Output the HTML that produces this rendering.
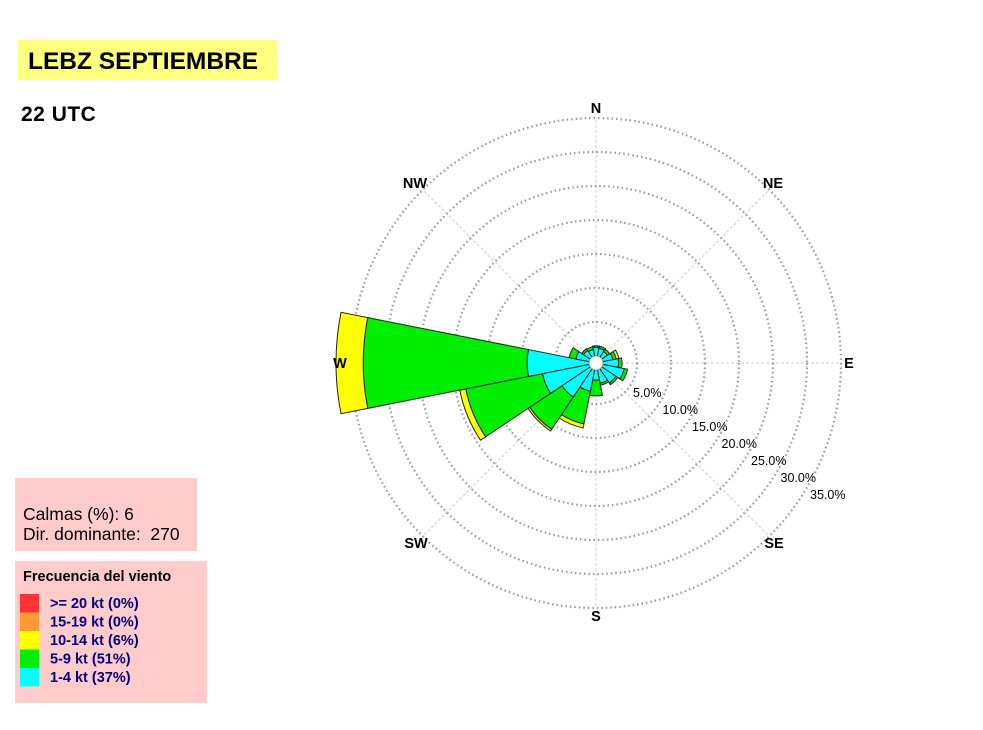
<!DOCTYPE html>
<html><head><meta charset="utf-8"><style>
html,body{margin:0;padding:0;background:#fff;}
svg{display:block;font-family:"Liberation Sans",Arial,sans-serif;}
</style></head><body>
<svg id="chart" width="983" height="730" viewBox="0 0 983 730">
<rect x="18" y="40" width="259" height="40" fill="#ffff80"/>
<text x="28" y="69" font-size="24.5" font-weight="bold">LEBZ SEPTIEMBRE</text>
<text x="21" y="121" font-size="21" font-weight="bold" letter-spacing="0.5">22 UTC</text>
<g id="grid"></g>
<g id="petals"></g>
<circle cx="596" cy="363" r="7" fill="#fff" stroke="#999" stroke-width="0.8"/>
<g id="labels"></g>
<rect x="15" y="478" width="182" height="73" fill="#ffcccc"/>
<text x="23" y="520" font-size="17.5">Calmas (%): 6</text>
<text x="23" y="540" font-size="17.5" xml:space="preserve" style="white-space:pre">Dir. dominante:  270</text>
<rect x="15" y="561" width="192" height="142" fill="#ffcccc"/>
<text x="23" y="581" font-size="14.5" font-weight="bold">Frecuencia del viento</text>
<g id="legend"></g>
</svg>
<script>
const directions = ["N","NNE","NE","ENE","E","ESE","SE","SSE","S","SSW","SW","WSW","W","WNW","NW","NNW"];
const speed1to4 = [1.3,1.2,1.0,1.5,2.3,3.2,2.5,2.0,1.5,3.2,5.0,7.0,9.1,2.0,1.2,1.0];
const speed5to9 = [0.2,0.3,0.4,0.5,0.5,0.5,0.3,0.3,2.3,4.9,5.7,11.5,24.1,1.0,0.3,0.4];
const speed10to14 = [0,0,0,0.4,0,0,0,0,0,0.6,0.3,0.9,4.0,0,0,0];
const ringTicks = ["5.0%","10.0%","15.0%","20.0%","25.0%","30.0%","35.0%"];
const ringValues = [5,10,15,20,25,30,35];
const legendLabels = [">= 20 kt (0%)","15-19 kt (0%)","10-14 kt (6%)","5-9 kt (51%)","1-4 kt (37%)"];
const legendColors = ["#ff3333","#ff9933","#ffff00","#00ee00","#00ffff"];

const NS="http://www.w3.org/2000/svg";
const cx=596, cy=363, hole=7, pxPer=34/5;
function rScale(p){return hole+p*pxPer;}
function pt(r,deg){const a=(deg-90)*Math.PI/180;return [cx+r*Math.cos(a),cy+r*Math.sin(a)];}
function mk(tag,attrs,parent){const e=document.createElementNS(NS,tag);for(const k in attrs)e.setAttribute(k,attrs[k]);parent.appendChild(e);return e;}
const grid=document.getElementById('grid');
for(let i=0;i<8;i++){
  const [x,y]=pt(rScale(ringValues[ringValues.length-1]),i*45);
  const l=mk('line',{x1:cx,y1:cy,x2:x,y2:y,stroke:'#ccc','stroke-width':1,'stroke-dasharray':'3,2'},grid);
  
  
}
ringValues.forEach(v=>{
  const c=mk('circle',{cx:cx,cy:cy,r:rScale(v),fill:'none',stroke:'#999','stroke-width':2.2,'stroke-dasharray':'1.5,3'},grid);
  
  
});
const petals=document.getElementById('petals');
const half=11.25;
function sector(r0,r1,d){
  const [a,b]=pt(r0,d-half),[c,e]=pt(r1,d-half),[f,g]=pt(r1,d+half),[h,i]=pt(r0,d+half);
  return `M${a},${b}L${c},${e}A${r1},${r1} 0 0 1 ${f},${g}L${h},${i}A${r0},${r0} 0 0 0 ${a},${b}Z`;
}
directions.forEach((dn,i)=>{
  const d=i*22.5;
  const s=[speed1to4[i],speed5to9[i],speed10to14[i]];
  const cols=["#00ffff","#00ee00","#ffff00"];
  let cum=0;
  s.forEach((v,j)=>{
    if(v<=0)return;
    const p=mk('path',{d:sector(rScale(cum),rScale(cum+v),d),fill:cols[j],stroke:'#222','stroke-width':1},petals);
    
    
    cum+=v;
  });
});
const labels=document.getElementById('labels');
const comp=[["N",596,113],["NE",773,188],["E",849,368],["SE",774,548],["S",596,621],["SW",416,548],["W",340,368],["NW",415,188]];
comp.forEach(c=>{
  const t=mk('text',{x:c[1],y:c[2],'font-size':14.5,'font-weight':'bold','text-anchor':'middle'},labels);
  t.textContent=c[0];
  
  
});
ringTicks.forEach((lab,k)=>{
  const t=mk('text',{x:633+k*29.5,y:397+k*17,'font-size':12.5},labels);
  t.textContent=lab;
  
  
});
const lg=document.getElementById('legend');
legendLabels.forEach((lab,k)=>{
  const r=mk('rect',{x:20,y:594+k*18.5,width:19,height:18.5,fill:legendColors[k]},lg);
  
  
  const t=mk('text',{x:50,y:608+k*18.5,'font-size':14.5,'font-weight':'bold',fill:'#000080'},lg);
  t.textContent=lab;
  
  
});
</script>
</body></html>
